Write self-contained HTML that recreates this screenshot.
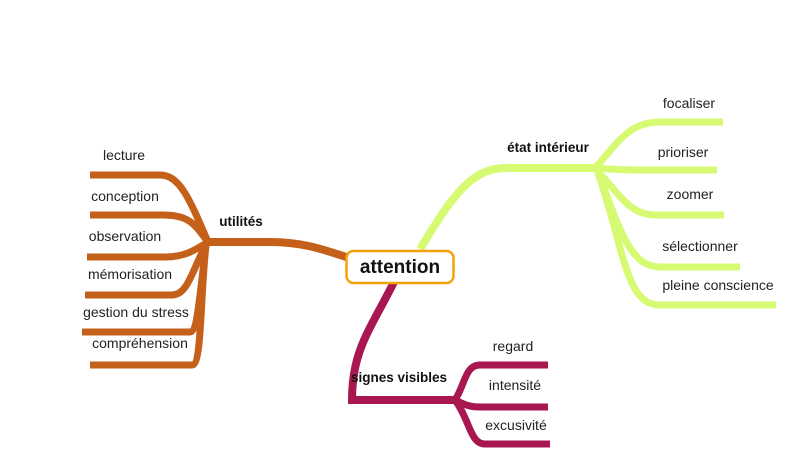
<!DOCTYPE html>
<html><head><meta charset="utf-8"><style>
html,body{margin:0;padding:0;background:#fff;}
svg{display:block}
text{font-family:"Liberation Sans",Arial,sans-serif;font-size:14px;fill:#222;text-anchor:middle}
.b{font-weight:bold;fill:#111;font-size:13.5px}
</style></head><body>
<svg width="800" height="473" viewBox="0 0 800 473" xmlns="http://www.w3.org/2000/svg">
<g fill="none" stroke-linecap="butt">
<g stroke="#c5601a" stroke-width="8">
<path d="M352 259 C320 248 300 242 270 242 L208 242"/>
<path d="M208 242 C190 200 180 175 160 175 L90 175" stroke-width="7"/>
<path d="M208 242 C195 225 190 215 163 215 L90 215" stroke-width="7"/>
<path d="M208 242 C195 250 185 257 165 257 L87 257" stroke-width="7"/>
<path d="M206 245 C192 270 188 295 172 295 L85 295" stroke-width="7"/>
<path d="M206 245 C200 290 198 332 190 332 L82 332" stroke-width="7"/>
<path d="M206 245 C200 300 202 365 192 365 L90 365" stroke-width="7"/>
</g>
<g stroke="#d6fa72" stroke-width="8">
<path d="M420 249 C450 200 470 168 505 168 L595 168"/>
<path d="M595 168 C620 140 630 122 660 122 L723 122" stroke-width="7"/>
<path d="M595 168 C620 170 630 170 650 170 L717 170" stroke-width="7"/>
<path d="M595 168 C620 195 630 215 655 215 L724 215" stroke-width="7"/>
<path d="M597 170 C620 230 630 267 660 267 L740 267" stroke-width="7"/>
<path d="M597 170 C625 250 625 305 660 305 L776 305" stroke-width="7"/>
</g>
<g stroke="#a8174f" stroke-width="8">
<path d="M394 282 C370 330 352 350 352 400 L455 400"/>
<path d="M455 400 C465 385 465 365 480 365 L548 365" stroke-width="7"/>
<path d="M455 400 C465 405 470 407 480 407 L548 407" stroke-width="7"/>
<path d="M455 400 C470 420 470 444 485 444 L550 444" stroke-width="7"/>
</g>
</g>
<rect x="346.5" y="251" width="107" height="32" rx="7" fill="#fff" stroke="#f5a20a" stroke-width="2.5"/>
<text x="400" y="273" class="b" style="font-size:19px">attention</text>
<text x="241" y="226" class="b">utilités</text>
<text x="548" y="152" class="b">état intérieur</text>
<text x="399" y="382" class="b">signes visibles</text>
<text x="124" y="160">lecture</text>
<text x="125" y="201">conception</text>
<text x="125" y="241">observation</text>
<text x="130" y="279">mémorisation</text>
<text x="136" y="317">gestion du stress</text>
<text x="140" y="348">compréhension</text>
<text x="689" y="108">focaliser</text>
<text x="683" y="157">prioriser</text>
<text x="690" y="199">zoomer</text>
<text x="700" y="251">sélectionner</text>
<text x="718" y="290">pleine conscience</text>
<text x="513" y="351">regard</text>
<text x="515" y="390">intensité</text>
<text x="516" y="430">excusivité</text>
</svg>
</body></html>
